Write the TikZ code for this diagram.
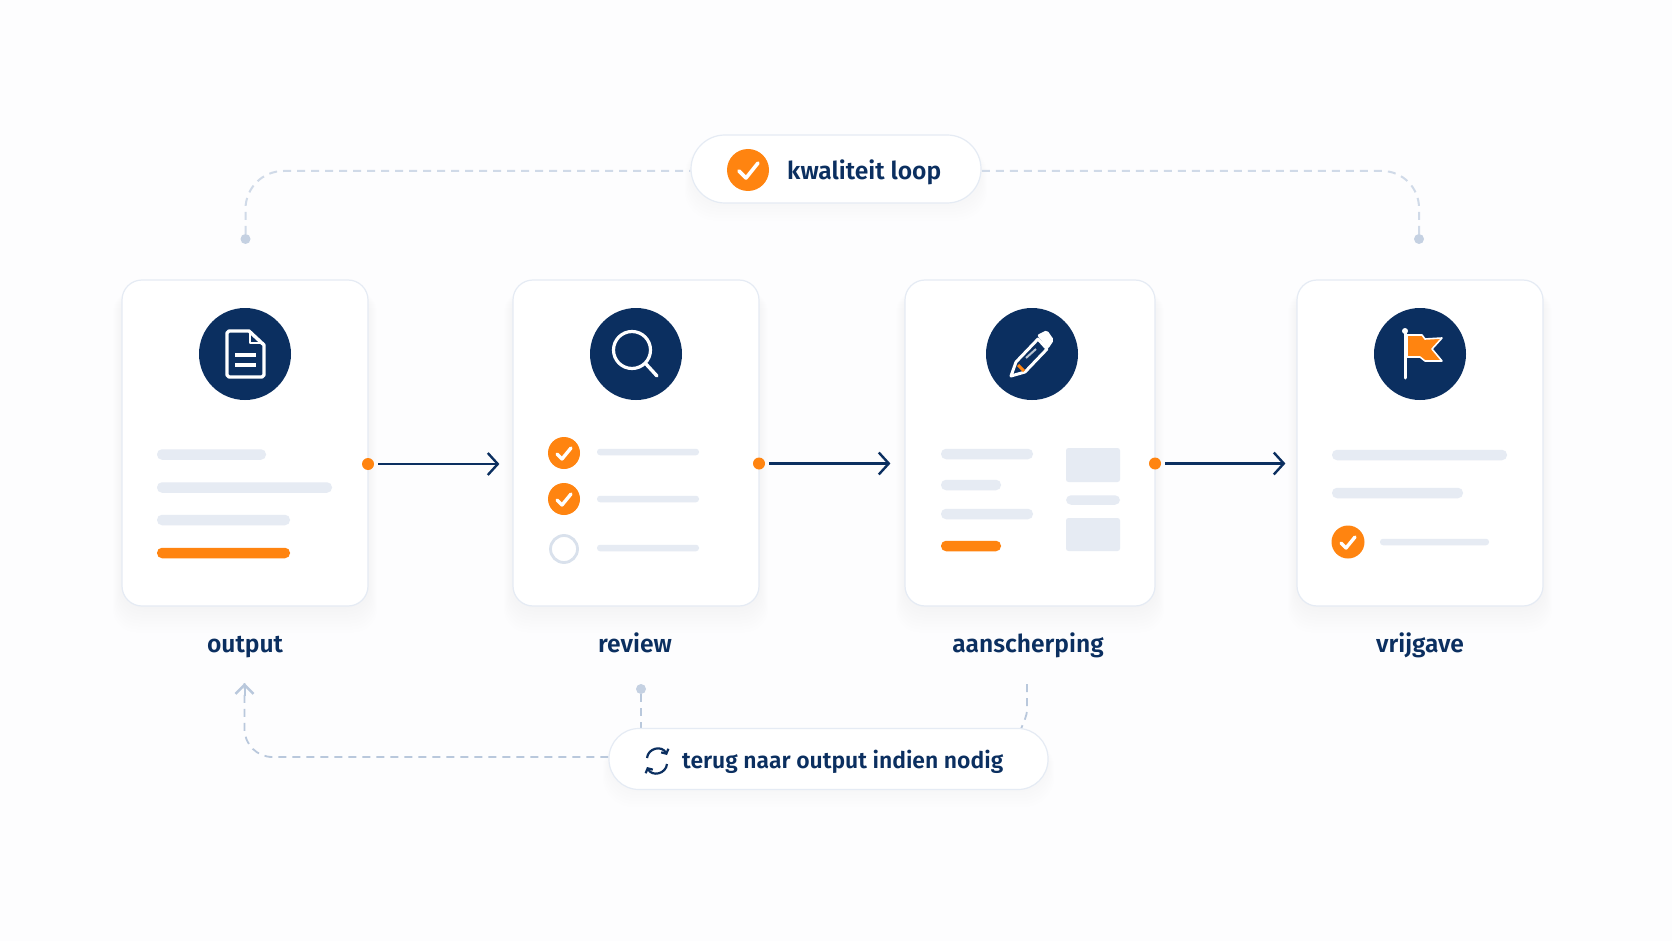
\documentclass[tikz,border=0pt]{standalone}
\usepackage{fontspec}
\setmainfont{Fira Sans}[BoldFont={Fira Sans SemiBold}]
\usetikzlibrary{arrows.meta,backgrounds}
\definecolor{navy}{HTML}{0B2F60}
\definecolor{accent}{HTML}{FF8410}
\definecolor{barcol}{HTML}{E6EBF3}
\definecolor{edgecol}{HTML}{E5EBF4}
\definecolor{ringcol}{HTML}{D9E1EC}
\definecolor{dashcol}{HTML}{D0DAE8}
\definecolor{backcol}{HTML}{B9C8DC}
\definecolor{dotcol}{HTML}{C5D1E2}
\definecolor{pagecol}{HTML}{FDFDFE}
\begin{document}
\begin{tikzpicture}
	[x=1pt,y=-1pt,
	card/.style={rectangle,draw=edgecol,line width=1.2pt,fill=white,rounded corners=20pt,minimum width=246pt,minimum height=326pt,inner sep=0},
	disc/.style={circle,fill=navy,minimum size=92pt,inner sep=0},
	bar/.style={rectangle,fill=barcol,rounded corners=5pt,minimum height=10.5pt,inner sep=0},
	thinbar/.style={bar,rounded corners=3pt,minimum height=6.5pt},
	hotbar/.style={bar,fill=accent},
	block/.style={rectangle,fill=barcol,rounded corners=2.5pt,minimum width=54pt,inner sep=0},
	okdot/.style={circle,fill=accent,minimum size=32pt,inner sep=0},
	opendot/.style={circle,draw=ringcol,line width=2.8pt,fill=white,minimum size=27pt,inner sep=0},
	tick/.style={draw=white,line width=3pt,line cap=round,line join=round},
	joint/.style={circle,fill=accent,minimum size=12pt,inner sep=0},
	flow/.style={draw=navy,line width=2.2pt,shorten <=4pt,-{Straight Barb[length=10pt,width=22pt,line width=2.4pt]}},
	endpt/.style={circle,fill=dotcol,minimum size=10pt,inner sep=0},
	loopline/.style={draw=dashcol,line width=2pt,dash pattern=on 8pt off 6pt},
	backline/.style={draw=backcol,line width=1.8pt,dash pattern=on 8pt off 6pt},
	pill/.style={rectangle,draw=edgecol,line width=1.2pt,fill=white,inner sep=0},
	caption/.style={text=navy,font=\bfseries\fontsize{24.6}{28}\selectfont,anchor=base,inner sep=0},
	icon/.style={draw=white,line width=3.4pt,line cap=round,line join=round}
	]
	\useasboundingbox (0,0) rectangle (1672,941);

	\node[card] (card1) at (245,443){};
	\node[card] (card2) at (636,443){};
	\node[card,minimum width=250pt] (card3) at (1030,443){};
	\node[card] (card4) at (1420,443){};

	\node[disc] (disc1) at (245,354){};
	\node[disc] (disc2) at (636,354){};
	\node[disc] (disc3) at (1032,354){};
	\node[disc] (disc4) at (1420,354){};

	\draw[icon] (227,333) -- (227,375) -- ++(2,2) -- (262,377) -- ++(2,-2) -- (264,345) -- (249,331) -- (229,331) -- cycle;
	\draw[icon,line width=2.4pt] (250,332) -- (250,343) -- (263,343);
	\draw[icon,line cap=butt] (235,355) -- (256,355);
	\draw[icon,line cap=butt] (235,365) -- (256,365);

	\node[circle,draw=white,line width=3.2pt,minimum size=37pt,inner sep=0] (lens) at (632,350){};
	\draw[icon] (lens.south east) -- (657,376);

	\draw[icon,fill=navy,line width=3pt] (1011,376) -- (1016,362) -- (1038,339) -- (1047,349) -- (1025,372) -- cycle;
	\fill[white,rounded corners=2pt] (1037,335) -- (1047,330) -- (1054,340) -- (1048,349) -- cycle;
	\draw[accent,line width=3pt] (1018,365) -- (1024,371);
	\draw[white!70!navy,line width=2pt] (1026,358) -- (1036,349);

	\draw[draw=white,fill=accent,line width=1.6pt,line join=round] (1407,335) -- (1422,335) -- (1425,339) -- (1442,338) -- (1432,349) -- (1442,361) -- (1425,361) -- (1420,357) -- (1407,357) -- cycle;
	\draw[icon,line width=3pt] (1405,332) -- (1405,378);
	\node[circle,fill=white,minimum size=6pt,inner sep=0] (knob) at (1405,331){};

	\node[bar,minimum width=109pt] (out1) at (211.5,454.5){};
	\node[bar,minimum width=175pt] (out2) at (244.5,487.5){};
	\node[bar,minimum width=133pt] (out3) at (223.5,520){};
	\node[hotbar,minimum width=133pt] (out4) at (223.5,553){};

	\node[okdot] (rev1) at (564,453){};
	\node[okdot] (rev2) at (564,499){};
	\node[opendot] (rev3) at (564,549){};
	\draw[tick,line width=3.4pt] (557,454) -- (562,459) -- (571,448);
	\draw[tick,line width=3.4pt] (557,500) -- (562,505) -- (571,494);
	\node[thinbar,minimum width=102pt] (revb1) at (648,452){};
	\node[thinbar,minimum width=102pt] (revb2) at (648,499){};
	\node[thinbar,minimum width=102pt] (revb3) at (648,548){};

	\node[bar,minimum width=92pt] (sch1) at (987,454){};
	\node[bar,minimum width=60pt] (sch2) at (971,485){};
	\node[bar,minimum width=92pt] (sch3) at (987,514){};
	\node[hotbar,minimum width=60pt] (sch4) at (971,546){};
	\node[block,minimum height=34pt] (sch5) at (1093,465){};
	\node[bar,minimum width=54pt,minimum height=9.5pt] (sch6) at (1093,500){};
	\node[block,minimum height=33pt] (sch7) at (1093,534.5){};

	\node[bar,minimum width=175pt] (vrij1) at (1419.5,455){};
	\node[bar,minimum width=131pt] (vrij2) at (1397.5,493){};
	\node[okdot,minimum size=33pt] (vrij3) at (1348,542){};
	\draw[tick,line width=3.4pt] (1341,543) -- (1346,548) -- (1355,537);
	\node[thinbar,minimum width=109pt] (vrij4) at (1434.5,542){};

	\node[joint] (joint1) at (368,464){};
	\node[joint] (joint2) at (759,463.5){};
	\node[joint] (joint3) at (1155,463.5){};
	\draw[flow,shorten >=13pt] (joint1) -- (card2.west |- joint1);
	\draw[flow,shorten >=14pt] (joint2) -- (card3.west |- joint2);
	\draw[flow,shorten >=11pt] (joint3) -- (card4.west |- joint3);

	\node[caption] (lab1) at (245,652){output};
	\node[caption] (lab2) at (635,652){review};
	\node[caption] (lab3) at (1028,652){aanscherping};
	\node[caption] (lab4) at (1420,652){vrijgave};

	\node[pill,rounded corners=34pt,minimum width=290pt,minimum height=68pt] (kwal) at (836,169){};
	\node[okdot,minimum size=42pt] (kwalok) at (748,170){};
	\draw[tick,line width=3.6pt] (739,171) -- (746,178) -- (758,163);
	\node[caption,anchor=base west] (kwaltxt) at (787,180){kwaliteit loop};

	\node[pill,rounded corners=30pt,minimum width=439pt,minimum height=61pt] (terug) at (828.5,759){};
	\node[caption,anchor=base west,font=\bfseries\fontsize{22.9}{26}\selectfont] (terugtxt) at (682,768){terug naar output indien nodig};
	\draw[navy,line width=2.2pt,-{Straight Barb[length=3.5pt,width=8pt]}] (647,758) .. controls (648,748) and (662,745) .. (667,755);
	\draw[navy,line width=2.2pt,-{Straight Barb[length=3.5pt,width=8pt]}] (667,764) .. controls (666,774) and (652,777) .. (647,767);

	\node[endpt] (top1) at (245.5,239){};
	\node[endpt] (top2) at (1419,239){};
	\node[endpt] (mid) at (641,689){};
	\coordinate (backtip) at (244.5,683);
	\coordinate (rgt) at (1027,684);
	\coordinate (rgtend) at (1021,729);

	\begin{scope}[on background layer]
		\fill[pagecol] (0,0) rectangle (1672,941);
		\foreach \c in {card1,card2,card3,card4}
			\foreach \g in {2,5,8,11,14,17,20,23,26}
				\fill[navy,opacity=.0045,rounded corners=24pt] ([xshift=-\g pt/3,yshift=-10pt]\c.north west) rectangle ([xshift=\g pt/3,yshift=-\g pt]\c.south east);
		\foreach \c in {kwal,terug}
			\foreach \g in {2,5,8,11,14,17}
				\fill[navy,opacity=.004,rounded corners=30pt] ([xshift=-\g pt/3,yshift=-10pt]\c.north west) rectangle ([xshift=\g pt/3,yshift=-\g pt]\c.south east);
		\draw[loopline,rounded corners=38pt] (top1) |- ([yshift=-2pt]kwal.west);
		\draw[loopline,rounded corners=37pt] (top2) |- ([yshift=-2pt]kwal.east);
		\draw[backline,rounded corners=28pt] ([yshift=2pt]terug.west) -| (backtip);
		\draw[backline,solid,line width=2pt,{Straight Barb[length=9pt,width=18pt,line width=2.6pt]}-] (backtip) -- ++(0,13);
		\draw[backline] (mid) -- (mid |- terug.north);
		\draw[backline] (rgt) -- ++(0,25) .. controls +(0,8) and +(2,-6) .. (rgtend);
	\end{scope}
\end{tikzpicture}
\end{document}
